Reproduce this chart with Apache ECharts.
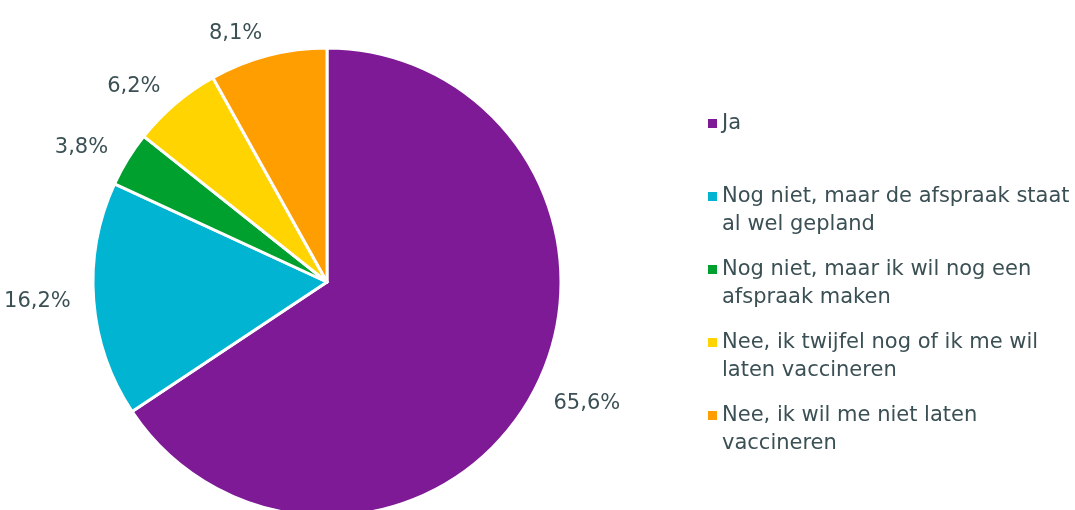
<!DOCTYPE html>
<html>
<head>
<meta charset="utf-8">
<script src="https://cdn.jsdelivr.net/npm/echarts@6/dist/echarts.min.js"></script>
<style>
  html, body { margin: 0; padding: 0; background: #fff; }
  #chart { width: 1075px; height: 510px; }
</style>
</head>
<body>
<div id="chart"></div>
<script>
// antwoorden en percentages
const categories = [
  'Ja',
  'Nog niet, maar de afspraak staat al wel gepland',
  'Nog niet, maar ik wil nog een afspraak maken',
  'Nee, ik twijfel nog of ik me wil laten vaccineren',
  'Nee, ik wil me niet laten vaccineren'
];
const values = [65.6, 16.2, 3.8, 6.2, 8.1];
// legendatekst zoals in het origineel afgebroken
const legendLines = [
  ['Ja'],
  ['Nog niet, maar de afspraak staat', 'al wel gepland'],
  ['Nog niet, maar ik wil nog een', 'afspraak maken'],
  ['Nee, ik twijfel nog of ik me wil', 'laten vaccineren'],
  ['Nee, ik wil me niet laten', 'vaccineren']
];
const colors = ['#7e1a96', '#00b4d2', '#00a02f', '#ffd400', '#ff9e00'];

const textColor = '#3b5055';
const font = 'DejaVu Sans';
const fontSize = 21;
const chart = echarts.init(document.getElementById('chart'));

// lege regel erboven zodat de eerste regel naast het icoon staat
function legendText(name) {
  const lines = legendLines[categories.indexOf(name)].map(l => '{t|' + l + '}');
  while (lines.length < 2) lines.push('{t| }');
  return ['{t| }'].concat(lines).join('\n');
}

const option = {
  animation: false,
  color: colors,
  legend: {
    orient: 'vertical',
    left: 708,
    top: 85,
    padding: 0,
    itemWidth: 9,
    itemHeight: 9,
    itemGap: -4,
    icon: 'rect',
    itemStyle: { borderWidth: 0 },
    data: categories,
    formatter: legendText,
    textStyle: {
      fontFamily: font,
      fontSize: fontSize,
      color: textColor,
      rich: {
        t: {
          fontFamily: font,
          fontSize: fontSize,
          lineHeight: 28,
          color: textColor
        }
      }
    }
  },
  series: [{
    type: 'pie',
    center: [327, 282],
    radius: 234,
    startAngle: 90,
    clockwise: true,
    itemStyle: { borderColor: '#fff', borderWidth: 3 },
    label: {
      show: true,
      position: 'outside',
      overflow: 'none',
      distanceToLabelLine: 0,
      formatter: p => p.value.toFixed(1).replace('.', ',') + '%',
      fontFamily: font,
      fontSize: fontSize,
      color: textColor
    },
    labelLine: { show: false, length: 23, length2: 0 },
    emphasis: { disabled: true },
    data: categories.map((c, i) => ({ name: c, value: values[i] }))
  }]
};
chart.setOption(option);
</script>
</body>
</html>
